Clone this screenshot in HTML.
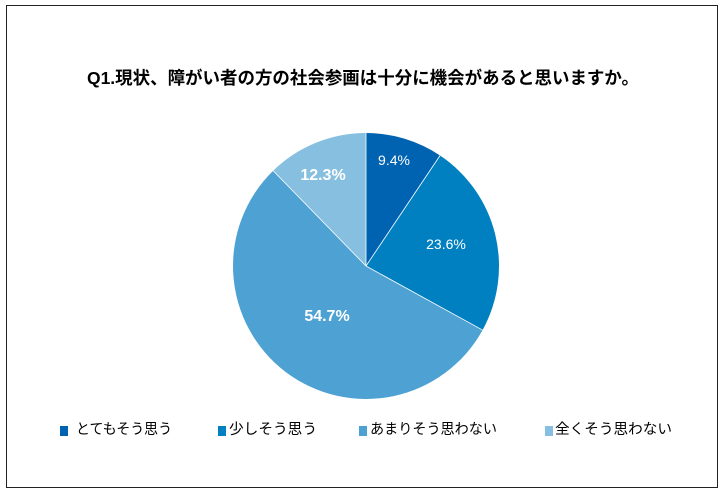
<!DOCTYPE html>
<html><head><meta charset="utf-8"><style>
body{margin:0;background:#fff;width:724px;height:494px;overflow:hidden;font-family:"Liberation Sans","Noto Sans CJK JP",sans-serif}
</style></head><body>
<svg width="724" height="494" xmlns="http://www.w3.org/2000/svg" font-family="Liberation Sans, Noto Sans CJK JP, sans-serif">
<rect x="6.5" y="5.5" width="711" height="482" fill="#fff" stroke="#222" stroke-width="1"/>
<text x="363" y="84" text-anchor="middle" font-size="17.5" font-weight="bold" fill="#000" textLength="552" lengthAdjust="spacingAndGlyphs">Q1.現状、障がい者の方の社会参画は十分に機会があると思いますか。</text>
<path d="M366,266 L366,133 A133,133 0 0 1 440.07,155.53 Z" fill="#0063b1"/>
<path d="M366,266 L440.07,155.53 A133,133 0 0 1 482.55,330.08 Z" fill="#0080c0"/>
<path d="M366,266 L482.55,330.08 A133,133 0 1 1 273.15,170.77 Z" fill="#4ea1d3"/>
<path d="M366,266 L273.15,170.77 A133,133 0 0 1 366,133 Z" fill="#87bfe0"/>
<g stroke="#fff" stroke-width="0.8"><line x1="366" y1="266" x2="366" y2="133"/><line x1="366" y1="266" x2="440.07" y2="155.53"/><line x1="366" y1="266" x2="482.55" y2="330.08"/><line x1="366" y1="266" x2="273.15" y2="170.77"/></g>
<g fill="#fff" text-anchor="middle">
<text x="394" y="165" font-size="14">9.4%</text>
<text x="446" y="249" font-size="14">23.6%</text>
<text x="327" y="321" font-size="16" font-weight="bold">54.7%</text>
<text x="323" y="180" font-size="16" font-weight="bold">12.3%</text>
</g>
<g font-size="14.5" fill="#000">
<rect x="60" y="426" width="8" height="10" fill="#0063b1"/><text x="76" y="434" textLength="96" lengthAdjust="spacingAndGlyphs">とてもそう思う</text>
<rect x="218" y="426" width="8" height="10" fill="#0080c0"/><text x="229" y="434" textLength="88" lengthAdjust="spacingAndGlyphs">少しそう思う</text>
<rect x="359" y="426" width="8" height="10" fill="#4ea1d3"/><text x="370" y="434" textLength="127" lengthAdjust="spacingAndGlyphs">あまりそう思わない</text>
<rect x="545" y="426" width="8" height="10" fill="#87bfe0"/><text x="555" y="434" textLength="117" lengthAdjust="spacingAndGlyphs">全くそう思わない</text>
</g>
</svg>
</body></html>
